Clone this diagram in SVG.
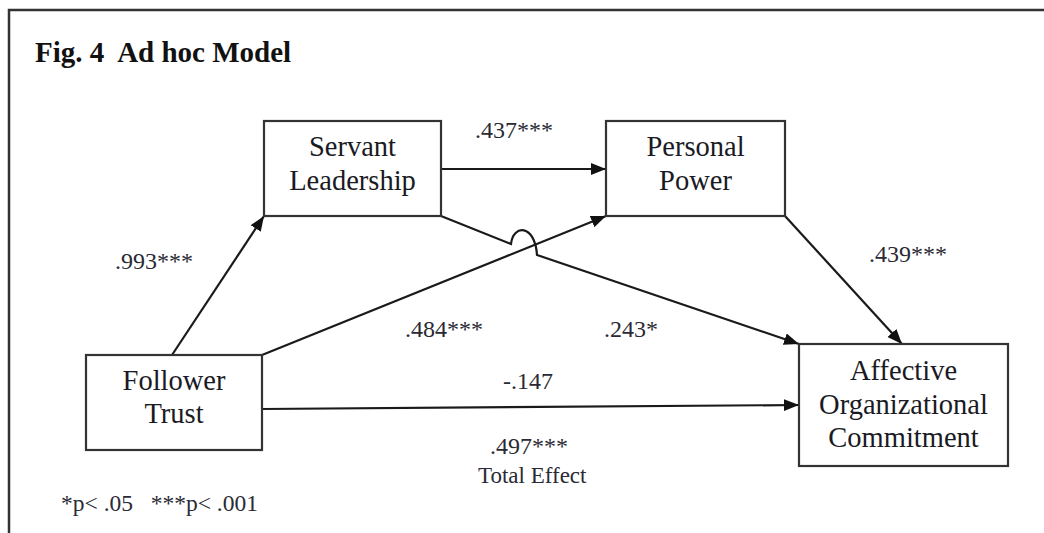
<svg xmlns="http://www.w3.org/2000/svg" width="1044" height="533" viewBox="0 0 1044 533">
<style>
.box{fill:#fff;stroke:#333;stroke-width:2.2}
.lbl{font-family:"Liberation Serif","Times New Roman",serif;font-size:28.5px;fill:#1a1a24;text-anchor:middle}
.coef{font-family:"Liberation Serif","Times New Roman",serif;font-size:24px;fill:#2a2a34}
.edge{fill:none;stroke:#1a1a1a;stroke-width:2.2}
</style>
<defs>
<marker id="arr" markerUnits="userSpaceOnUse" markerWidth="16" markerHeight="14" refX="15" refY="6" orient="auto">
<path d="M0,0 L15,6 L0,12 Z" fill="#111"/>
</marker>
</defs>
<rect width="1044" height="533" fill="#fff"/>
<path d="M9,533 V10 H1044" fill="none" stroke="#333" stroke-width="2.5"/>
<text x="35" y="62" xml:space="preserve" style="font-family:'Liberation Serif','Times New Roman',serif;font-size:29px;font-weight:bold;fill:#111">Fig. 4  Ad hoc Model</text>

<g id="connectors">
<line class="edge" x1="172" y1="355" x2="264" y2="216" marker-end="url(#arr)"/>
<line class="edge" x1="262" y1="355" x2="606" y2="216" marker-end="url(#arr)"/>
<line class="edge" x1="262" y1="409" x2="799" y2="405" marker-end="url(#arr)"/>
<line class="edge" x1="441" y1="169" x2="606" y2="169" marker-end="url(#arr)"/>
<path class="edge" d="M441,216 L511,244 C513,224 535,224 537,255 L799,344" marker-end="url(#arr)"/>
<line class="edge" x1="785" y1="216" x2="902" y2="344" marker-end="url(#arr)"/>
</g>

<g id="servant">
<rect class="box" x="264" y="121" width="177" height="95"/>
<text class="lbl" x="352.5" y="156">Servant</text>
<text class="lbl" x="352.5" y="190">Leadership</text>
</g>
<g id="personal">
<rect class="box" x="606" y="121" width="179" height="95"/>
<text class="lbl" x="695.5" y="156">Personal</text>
<text class="lbl" x="695.5" y="190">Power</text>
</g>
<g id="follower">
<rect class="box" x="86" y="355" width="176" height="95"/>
<text class="lbl" x="174" y="390">Follower</text>
<text class="lbl" x="174" y="423">Trust</text>
</g>
<g id="affective">
<rect class="box" x="799" y="344" width="209" height="122"/>
<text class="lbl" x="903.5" y="380">Affective</text>
<text class="lbl" x="903.5" y="414">Organizational</text>
<text class="lbl" x="903.5" y="447">Commitment</text>
</g>

<g id="labels">
<text class="coef" x="475" y="138">.437***</text>
<text class="coef" x="115" y="269">.993***</text>
<text class="coef" x="869" y="262">.439***</text>
<text class="coef" x="405" y="337">.484***</text>
<text class="coef" x="604" y="337">.243*</text>
<text class="coef" x="503" y="389">-.147</text>
<text class="coef" x="490" y="454">.497***</text>
<text class="coef" x="478" y="483" style="font-size:23px">Total Effect</text>
<text class="coef" x="61" y="511" xml:space="preserve" style="font-size:23.5px">*p&lt; .05   ***p&lt; .001</text>
</g>
</svg>
